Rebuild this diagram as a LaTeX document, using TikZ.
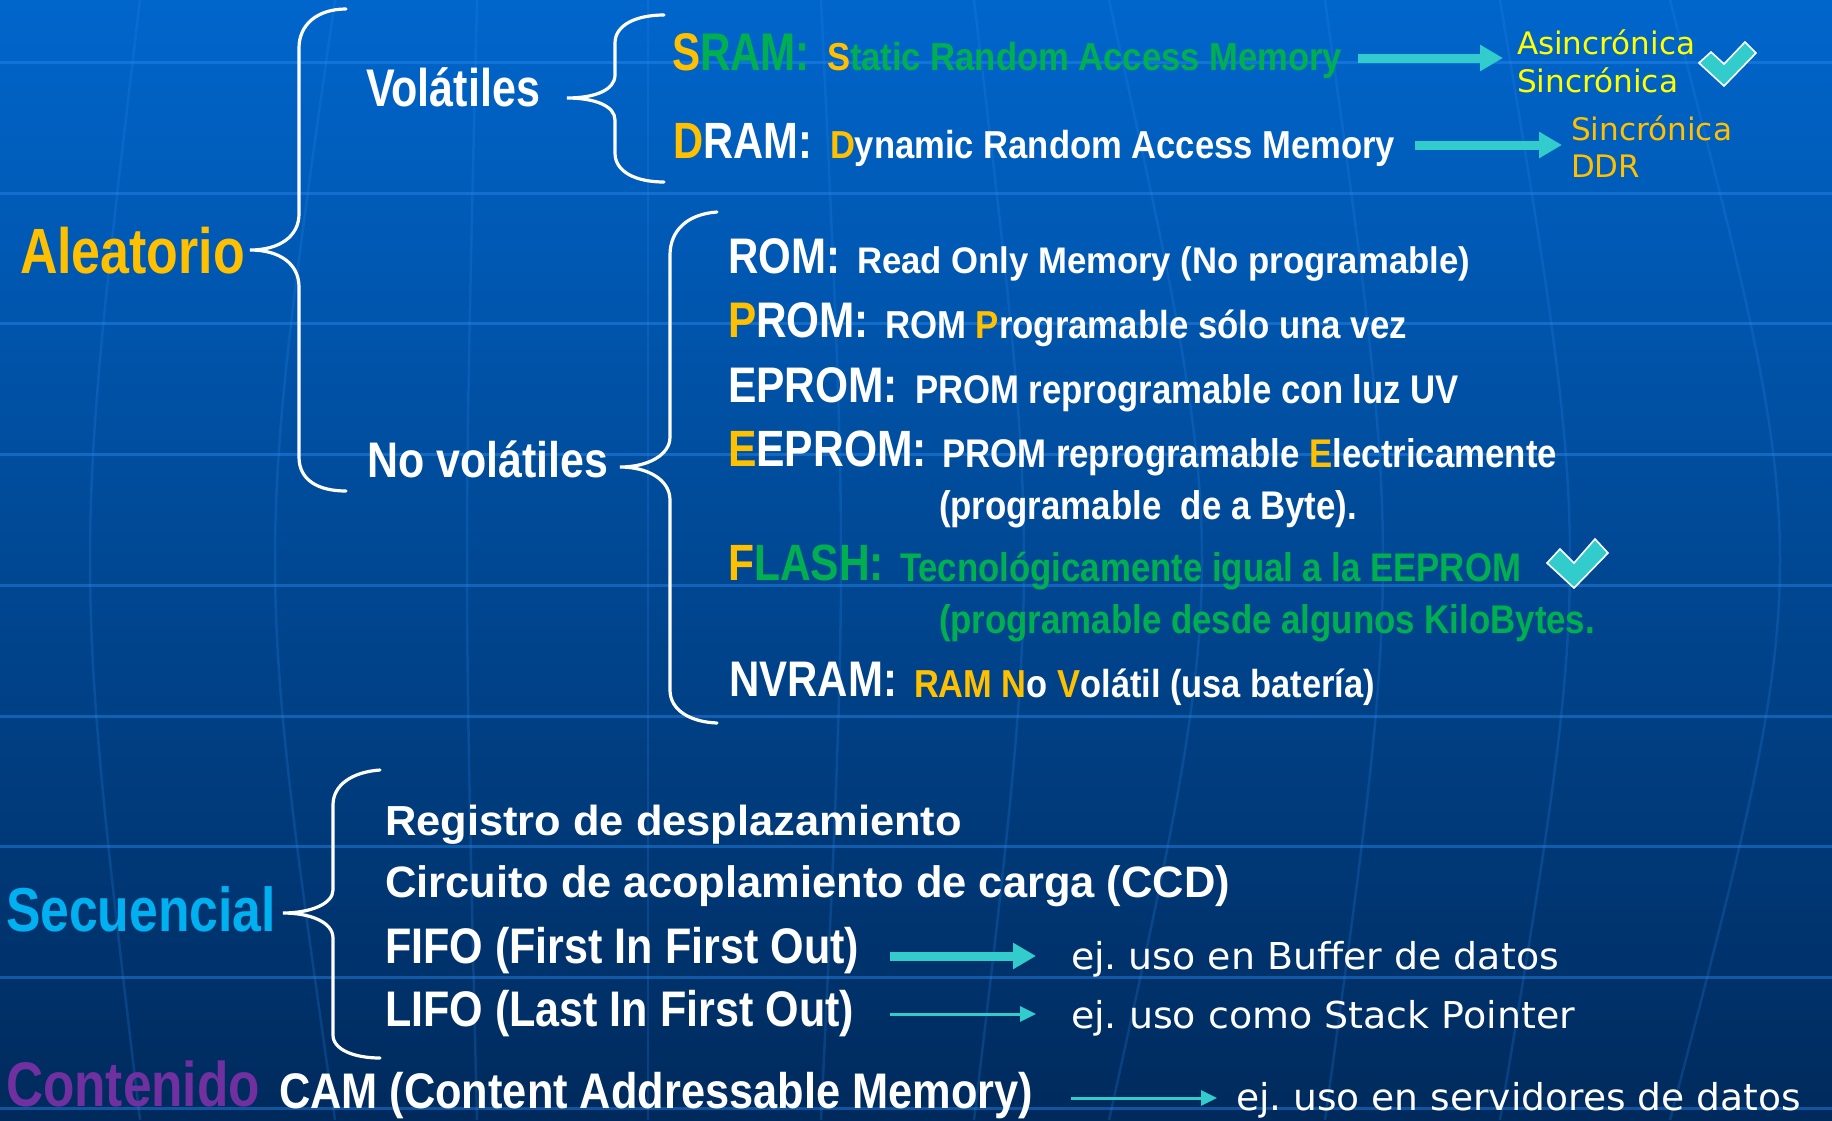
\documentclass[tikz,border=0pt]{standalone}
\usepackage{graphicx}
\usepackage{fontspec}
\setmainfont{Liberation Sans}
\newfontfamily\vfont{DejaVu Sans}
\usetikzlibrary{arrows.meta}
\definecolor{gold}{HTML}{FFC000}
\definecolor{grn}{HTML}{00B050}
\definecolor{yel}{HTML}{FFFF00}
\definecolor{tealc}{HTML}{33CCCC}
\definecolor{cyanb}{HTML}{00B0F0}
\definecolor{purp}{HTML}{7030A0}
\definecolor{bgtop}{HTML}{0066CC}
\definecolor{bgmid}{HTML}{004C9C}
\definecolor{bgbot}{HTML}{002A5C}
\definecolor{gridc}{HTML}{2A88EE}
\newcommand\fz[1]{\fontsize{#1}{#1}\selectfont}
\newcommand\fitw[2]{\resizebox{#1pt}{\height}{#2}}
\frenchspacing
\tikzset{
  txt/.style={anchor=base west,inner sep=0pt,outer sep=0pt,text=white,font=\bfseries},
  ejt/.style={anchor=base west,inner sep=0pt,outer sep=0pt,text=white,font=\vfont},
  bracestyle/.style={draw=white,line width=3.2pt,line cap=round},
  bigarr/.style={draw=tealc,line width=9pt,-{Triangle[length=23pt,width=25pt]}},
  thinarr/.style={draw=tealc,line width=3pt,-{Triangle[length=16pt,width=15pt]}},
  checkmk/.style={fill=tealc,draw=white,line width=1.6pt,line join=miter},
  gridh/.style={draw=gridc,line width=3pt,opacity=0.45},
  gridv/.style={draw=gridc,line width=2.5pt,opacity=0.22}
}
\begin{document}
\begin{tikzpicture}[x=1pt,y=-1pt]
\useasboundingbox (0,0) rectangle (1832,1120);
% background
\shade[top color=bgtop,middle color=bgmid,bottom color=bgbot] (0,0) rectangle (1832,1120);
\foreach \yy in {62,193,323,454,585,716,846,977,1108}
  \draw[gridh] (0,\yy) -- (1832,\yy);
\begin{scope}
\clip (0,0) rectangle (1832,1120);
\foreach \m/\k in {90/50,275/60,467/10,648/0,841/-20,1024/-50,1202/-93,1383/-58,1570/-70,1780/-110}
  \draw[gridv] ({\m+\k},0) .. controls ({\m-\k/3},560) .. ({\m+\k},1120);
\end{scope}

% braces
\draw[bracestyle] (346,9) .. controls (318,9) and (299,24) .. (299,48) -- (299,214)
  .. controls (299,236) and (280,250) .. (250,250)
  .. controls (280,250) and (299,264) .. (299,287) -- (299,457)
  .. controls (299,480) and (318,491) .. (346,491);
\draw[bracestyle] (664,15) .. controls (636,15) and (615,25) .. (615,43) -- (615,75)
  .. controls (615,90) and (595,98) .. (567,98)
  .. controls (595,98) and (615,106) .. (615,120) -- (615,153)
  .. controls (615,172) and (636,182) .. (664,182);
\draw[bracestyle] (717,212) .. controls (688,214) and (670,230) .. (670,255) -- (670,437)
  .. controls (670,455) and (648,467) .. (620,467)
  .. controls (648,467) and (670,480) .. (670,500) -- (670,690)
  .. controls (670,710) and (690,722) .. (717,723);
\draw[bracestyle] (380,770) .. controls (352,772) and (333,785) .. (333,805) -- (333,890)
  .. controls (333,904) and (310,913) .. (283,913)
  .. controls (310,913) and (333,922) .. (333,938) -- (333,1035)
  .. controls (333,1050) and (355,1058) .. (380,1058);

% left labels
\node[txt] (aleat) at (20,273) {\fitw{225}{\fz{64}\color{gold}Aleatorio}};
\node[txt] (vol) at (366,106) {\fitw{174}{\fz{53}Volátiles}};
\node[txt] (novol) at (367,477) {\fitw{241}{\fz{50}No volátiles}};
\node[txt] (secu) at (6,931) {\fitw{270}{\fz{62}\color{cyanb}Secuencial}};
\node[txt] (cont) at (6,1106) {\fitw{254}{\fz{63}\color{purp}Contenido}};
\node[txt] (cam) at (279,1108) {\fitw{754}{\fz{50}CAM (Content Addressable Memory)}};

% volatile
\node[txt] (sramP) at (672,70) {\fitw{138}{\fz{53}\textcolor{gold}{S}\textcolor{grn}{RAM:}}};
\node[txt] (sramR) at (827,70) {\fitw{515}{\fz{39}\textcolor{gold}{S}\textcolor{grn}{tatic Random Access Memory}}};
\node[txt] (dramP) at (673,158) {\fitw{139}{\fz{51}\textcolor{gold}{D}RAM:}};
\node[txt] (dramR) at (830,158) {\fitw{565}{\fz{39}\textcolor{gold}{D}ynamic Random Access Memory}};

% non-volatile
\node[txt] (romP) at (728,273) {\fitw{112}{\fz{50}ROM:}};
\node[txt] (romR) at (857,273) {\fitw{613}{\fz{37}Read Only Memory (No programable)}};
\node[txt] (promP) at (728,337) {\fitw{141}{\fz{50}\textcolor{gold}{P}ROM:}};
\node[txt] (promR) at (885,338) {\fitw{522}{\fz{39}ROM \textcolor{gold}{P}rogramable sólo una vez}};
\node[txt] (epromP) at (728,402) {\fitw{170}{\fz{50}EPROM:}};
\node[txt] (epromR) at (915,403) {\fitw{544}{\fz{40}PROM reprogramable con luz UV}};
\node[txt] (eepromP) at (728,466) {\fitw{199}{\fz{51}\textcolor{gold}{E}EPROM:}};
\node[txt] (eepromR) at (942,467) {\fitw{615}{\fz{40}PROM reprogramable \textcolor{gold}{E}lectricamente}};
\node[txt] (byte) at (939,519) {\fitw{418}{\fz{40}(programable\ \ de a Byte).}};
\node[txt] (flashP) at (728,580) {\fitw{156}{\fz{51}\textcolor{gold}{F}\textcolor{grn}{LASH:}}};
\node[txt] (flashR) at (900,581) {\fitw{621}{\fz{40}\color{grn}Tecnológicamente igual a la EEPROM}};
\node[txt] (desde) at (939,633) {\fitw{656}{\fz{40}\color{grn}(programable desde algunos KiloBytes.}};
\node[txt] (nvramP) at (729,696) {\fitw{168}{\fz{50}NVRAM:}};
\node[txt] (nvramR) at (914,697) {\fitw{461}{\fz{39}\textcolor{gold}{RAM N}o \textcolor{gold}{V}olátil (usa batería)}};

% sequential
\node[txt] (reg) at (385,835) {\fitw{577}{\fz{42}Registro de desplazamiento}};
\node[txt] (circ) at (385,897) {\fitw{845}{\fz{44}Circuito de acoplamiento de carga (CCD)}};
\node[txt] (fifo) at (385,963) {\fitw{474}{\fz{50}FIFO (First In First Out)}};
\node[txt] (lifo) at (385,1026) {\fitw{469}{\fz{50}LIFO (Last In First Out)}};

% right side notes
\node[ejt,text=yel] (asin) at (1517,54) {\fitw{178}{\fz{31}Asincrónica}};
\node[ejt,text=yel] (sinc1) at (1517,92) {\fitw{161}{\fz{31}Sincrónica}};
\node[ejt,text=gold] (sinc2) at (1571,140) {\fitw{161}{\fz{31}Sincrónica}};
\node[ejt,text=gold] (ddr) at (1571,177) {\fitw{69}{\fz{31}DDR}};
\node[ejt] (ej1) at (1071,969) {\fitw{488}{\fz{37}ej. uso en Buffer de datos}};
\node[ejt] (ej2) at (1071,1028) {\fitw{504}{\fz{37}ej. uso como Stack Pointer}};
\node[ejt] (ej3) at (1236,1110) {\fitw{565}{\fz{37}ej. uso en servidores de datos}};

% arrows
\coordinate (a1s) at (1358,58);  \coordinate (a1e) at (1503,58);
\coordinate (a2s) at (1415,145); \coordinate (a2e) at (1562,145);
\coordinate (a3s) at (890,956);  \coordinate (a3e) at (1036,956);
\coordinate (a4s) at (890,1014); \coordinate (a4e) at (1036,1014);
\coordinate (a5s) at (1071,1098); \coordinate (a5e) at (1217,1098);
\draw[bigarr] (a1s) -- (a1e);
\draw[bigarr] (a2s) -- (a2e);
\draw[bigarr] (a3s) -- (a3e);
\draw[thinarr] (a4s) -- (a4e);
\draw[thinarr] (a5s) -- (a5e);

% check marks
\filldraw[checkmk] (1699,63) -- (1711,52) -- (1724,64) -- (1745,42) -- (1756,53) -- (1724,86) -- cycle;
\filldraw[checkmk] (1547,563) -- (1560,549) -- (1574,563) -- (1595,539) -- (1608,553) -- (1574,588) -- cycle;
\end{tikzpicture}
\end{document}
